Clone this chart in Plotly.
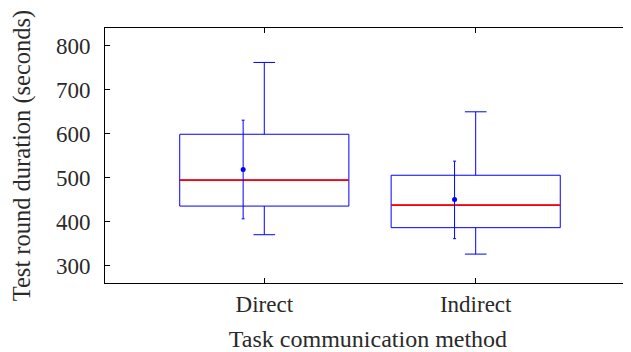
import plotly.graph_objects as go

categories = ["Direct", "Indirect"]
cat_pos = [1, 2]
lower_whisker = [371, 327]
q1 = [436, 387]
median = [495, 438]
q3 = [599, 506]
upper_whisker = [762, 650]
mean = [519, 451]
mean_low = [407, 362]
mean_high = [631, 538]
y_ticks = [300, 400, 500, 600, 700, 800]

FONT = "Liberation Serif"
TXT = "#2a2a2a"
BLUE = "#0000ff"
RED = "#ff0000"

fig = go.Figure()

fig.add_trace(go.Box(
    x=cat_pos, q1=q1, median=median, q3=q3,
    lowerfence=lower_whisker, upperfence=upper_whisker,
    width=0.8, whiskerwidth=0.128, boxpoints=False,
    line=dict(color=BLUE, width=1), fillcolor="rgba(0,0,0,0)",
    showlegend=False, hoverinfo="skip",
))

# red median lines across each box
mx, my = [], []
for p, m in zip(cat_pos, median):
    mx += [p - 0.4, p + 0.4, None]
    my += [m, m, None]
fig.add_trace(go.Scatter(x=mx, y=my, mode="lines",
                         line=dict(color=RED, width=1.8),
                         showlegend=False, hoverinfo="skip"))

# mean with error bars, offset left of centre
fig.add_trace(go.Scatter(
    x=[p - 0.1 for p in cat_pos], y=mean, mode="markers",
    marker=dict(color=BLUE, size=5),
    error_y=dict(type="data", symmetric=False,
                 array=[h - m for h, m in zip(mean_high, mean)],
                 arrayminus=[m - l for m, l in zip(mean, mean_low)],
                 color=BLUE, thickness=1, width=1.5),
    showlegend=False, hoverinfo="skip",
))

# invisible trace to activate right-side y ticks
fig.add_trace(go.Scatter(x=[1], y=[500], yaxis="y2", mode="markers",
                         marker=dict(opacity=0), showlegend=False,
                         hoverinfo="skip"))

yr = [261.4, 840.2]
fig.update_layout(
    width=623, height=344,
    margin=dict(l=97, r=0, t=20, b=69),
    paper_bgcolor="white", plot_bgcolor="white",
    font=dict(family=FONT, color=TXT, size=23),
    xaxis=dict(
        range=[0.2465, 2.7346], tickvals=cat_pos, ticktext=categories,
        showgrid=False, zeroline=False, automargin=False,
        showline=True, linecolor="black", linewidth=1, mirror="ticks",
        ticks="inside", ticklen=5, tickcolor="black",
        ticklabelstandoff=0,
        tickfont=dict(family=FONT, size=23, color=TXT),
        title=dict(text="Task communication method", standoff=17,
                   font=dict(family=FONT, size=24, color=TXT)),
    ),
    yaxis=dict(
        range=yr, tickvals=y_ticks, automargin=False,
        showgrid=False, zeroline=False,
        showline=True, linecolor="black", linewidth=1, mirror=False,
        ticks="inside", ticklen=5, tickcolor="black",
        ticklabelstandoff=9,
        tickfont=dict(family=FONT, size=23, color=TXT),
        title=dict(text="Test round duration (seconds)", standoff=20,
                   font=dict(family=FONT, size=24.5, color=TXT)),
    ),
    yaxis2=dict(
        range=yr, tickvals=y_ticks, overlaying="y", side="right",
        showgrid=False, zeroline=False, showline=False, automargin=False,
        ticks="inside", ticklen=5, tickcolor="black",
        showticklabels=False,
    ),
)

fig.write_html("out.html")
